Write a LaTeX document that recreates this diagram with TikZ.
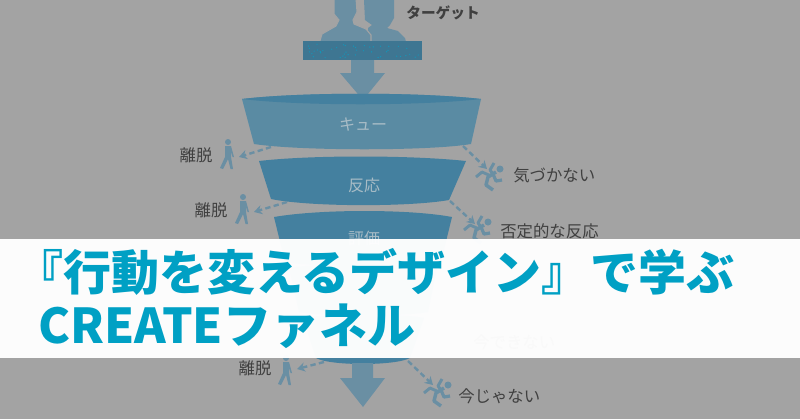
\documentclass[tikz,border=0pt]{standalone}
\usepackage{fontspec}
\setmainfont{Noto Sans CJK JP}
\usetikzlibrary{arrows.meta}
\definecolor{pagegray}{HTML}{A3A3A3}
\definecolor{funnelpale}{HTML}{5A8BA3}
\definecolor{funneldark}{HTML}{44809F}
\definecolor{iconblue}{HTML}{6A8FA3}
\definecolor{titleblue}{HTML}{00A0C4}
\definecolor{inwhite}{HTML}{A8BCC6}
\tikzset{
    layer/.style={fill=funneldark},
    label/.style={text=black!75, font=\fontsize{12.3pt}{13pt}\selectfont, inner sep=0pt},
    inlabel/.style={text=inwhite, font=\fontsize{12pt}{13pt}\selectfont, inner sep=0pt},
    leave/.style={draw=iconblue, line width=1.8pt, dash pattern=on 4pt off 2.5pt, -{Stealth[length=6pt,width=7pt]}},
    title/.style={text=titleblue, anchor=west, inner sep=0pt, font=\fontsize{36pt}{38pt}\selectfont\bfseries},
    walker/.pic={
        \fill[iconblue] (0,-12) circle (3);
        \fill[iconblue] (-3,-8) -- (3,-8) -- (6,3) -- (4.5,3) -- (3,-3) -- (3,3) -- (5,15) -- (2.5,15) -- (0,5) -- (-5,15) -- (-8,14) -- (-3,3) -- cycle;
    },
    faller/.pic={
        \fill[iconblue] (10,-7) circle (3.5);
        \draw[iconblue, line width=2.6pt, line join=round] (6,-4) -- (-2,1) -- (-4,9) -- (3,14);
        \draw[iconblue, line width=2.4pt, line join=round] (3,-2) -- (6,5) -- (12,4);
        \draw[iconblue, line width=2.2pt, line join=round] (3,-2) -- (0,-6) -- (4,-13);
        \draw[iconblue, line width=2.2pt, line join=round] (1,0) -- (-8,-4) -- (-14,1);
    }
}
\begin{document}
\begin{tikzpicture}[x=0.75pt, y=-0.75pt]
    \useasboundingbox (0,0) rectangle (800,419);
    \fill[pagegray] (0,0) rectangle (800,419);

    % people on top
    \fill[iconblue] (364,0) -- (394,0) -- (394,18) -- (390,25) -- (387,28) -- (398,31) -- (405,38) -- (406,42) -- (368,42) -- (368,28) -- (372,25) -- (365,20) -- cycle;
    \fill[iconblue, draw=pagegray, line width=0.8pt] (334,-2) -- (356,-2) -- (357,12) -- (353,20) -- (354,24) -- (366,29) -- (371,35) -- (371,44) -- (319,44) -- (322,34) -- (336,26) -- (339,20) -- (334,14) -- cycle;

    % arrow in
    \fill[iconblue] (351,55) -- (374,55) -- (374,73) -- (385,73) -- (363,100) -- (340,73) -- (351,73) -- cycle;
    \fill[funneldark!92!black] (303,41) rectangle (422,60);
    \pgfmathsetseed{7}
    \foreach \i in {1,...,45} {
        \fill[titleblue!70!funneldark] ({305+115*rnd},{44+14*rnd}) circle (0.7);
    }

    % funnel
    \fill[funnelpale] (242,99) .. controls (300,92) and (420,92) .. (481,99) -- (471,144) .. controls (430,151) and (300,151) .. (254,144) -- cycle;
    \fill[funneldark] (242,99) .. controls (300,92) and (420,92) .. (481,99) .. controls (420,106) and (300,106) .. (242,99) -- cycle;
    \fill[layer] (259,161) .. controls (310,155) and (410,155) .. (466,161) -- (449,200) .. controls (410,207) and (310,207) .. (271,199) -- cycle;
    \fill[layer] (274,217) .. controls (320,209) and (410,209) .. (452,217) -- (441,262) .. controls (410,268) and (320,268) .. (285,262) -- cycle;
    \fill[layer] (289,268) .. controls (325,262) and (405,262) .. (437,268) -- (428,312) .. controls (400,317) and (325,317) .. (299,312) -- cycle;
    \fill[layer] (303,318) .. controls (330,313) and (400,313) .. (424,318) -- (410,358) .. controls (395,366) and (330,366) .. (316,358) -- cycle;

    % arrow out
    \fill[iconblue] (352,363) -- (373,363) -- (373,378) -- (385,378) -- (363,407) -- (340,378) -- (352,378) -- cycle;

    \node[inlabel] (cue) at (363,125) {キュー};
    \node[inlabel] (react) at (364,185) {反応};
    \node[inlabel] (judge) at (364,238) {評価};
    \node[label, font=\fontsize{11pt}{12pt}\selectfont\bfseries] (target) at (443,13) {ターゲット};

    % leaving, left side
    \pic at (228,154) {walker};
    \pic at (243,209) {walker};
    \pic at (286,370) {walker};
    \node[label] (leaveA) at (196,155) {離脱};
    \node[label] (leaveB) at (211,210) {離脱};
    \node[label] (leaveC) at (255,368) {離脱};
    \coordinate (cueL) at (271,147);
    \coordinate (cueW) at (239,157);
    \coordinate (reactL) at (287,202);
    \coordinate (reactW) at (254,212);
    \coordinate (lastL) at (324,362);
    \coordinate (lastW) at (297,369);
    \draw[leave] (cueL) -- (cueW);
    \draw[leave] (reactL) -- (reactW);
    \draw[leave] (lastL) -- (lastW);

    % falling, right side
    \pic at (490,176) {faller};
    \pic at (478,229) {faller};
    \pic at (438,392) {faller};
    \node[label, anchor=west] (missA) at (513,175) {気づかない};
    \node[label, anchor=west] (missB) at (500,231) {否定的な反応};
    \node[label, anchor=west] (missC) at (458,396) {今じゃない};
    \node[label, anchor=west] (missD) at (473,342) {今できない};
    \coordinate (cueR) at (463,146);
    \coordinate (cueF) at (487,169);
    \coordinate (reactR) at (450,201);
    \coordinate (reactF) at (475,224);
    \coordinate (lastR) at (408,361);
    \coordinate (lastF) at (433,385);
    \draw[leave] (cueR) -- (cueF);
    \draw[leave] (reactR) -- (reactF);
    \draw[leave] (lastR) -- (lastF);

    % band and title
    \fill[white, opacity=0.97] (0,239) rectangle (800,358);
    \node[title] (lineA) at (15,272) {『行動を変えるデザイン』};
    \node[title] (lineB) at (590,272) {で学ぶ};
    \node[title] (lineC) at (38,326) {CREATEファネル};
\end{tikzpicture}
\end{document}
